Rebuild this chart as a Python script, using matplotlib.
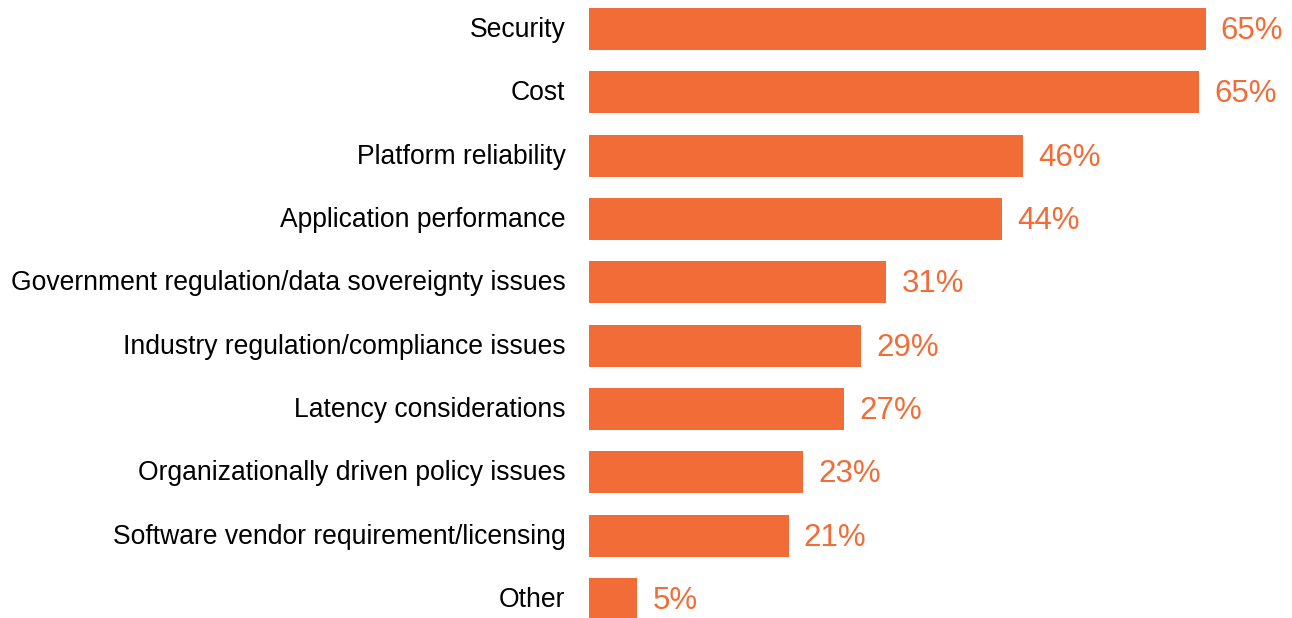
import matplotlib.pyplot as plt
import matplotlib.transforms as mtransforms

plt.rcParams['font.family'] = ['Liberation Sans', 'DejaVu Sans']

categories = ['Security', 'Cost', 'Platform reliability', 'Application performance',
              'Government regulation/data sovereignty issues',
              'Industry regulation/compliance issues', 'Latency considerations',
              'Organizationally driven policy issues',
              'Software vendor requirement/licensing', 'Other']
values = [64.9, 64.2, 45.7, 43.5, 31.3, 28.6, 26.8, 22.5, 21.0, 5.05]
labels = ['65%', '65%', '46%', '44%', '31%', '29%', '27%', '23%', '21%', '5%']

color = '#F26C38'

fig = plt.figure(figsize=(12.92, 6.18), dpi=100)
ax = fig.add_axes([589 / 1292, 0, 1 - 589 / 1292, 1])

y = list(range(len(categories)))
bars = ax.barh(y, values, height=0.66, color=color)

# value labels to the right of each bar
for b, lab in zip(bars, labels):
    ax.annotate(lab, (b.get_width(), b.get_y() + b.get_height() / 2),
                xytext=(11, -1.5), textcoords='offset points',
                va='center', ha='left', color=color, fontsize=22.5)

ax.set_yticks(y)
ax.set_yticklabels(categories, fontsize=19.1)
ax.tick_params(axis='y', length=0, pad=17)
# nudge category labels up a little
shift = mtransforms.ScaledTranslation(0, 2 / 100, fig.dpi_scale_trans)
for t in ax.get_yticklabels():
    t.set_transform(t.get_transform() + shift)
ax.set_xticks([])
ax.set_xlim(0, 74)
ax.set_ylim(9.30, -0.458)
for s in ax.spines.values():
    s.set_visible(False)

fig.savefig('out.png', dpi=100)
